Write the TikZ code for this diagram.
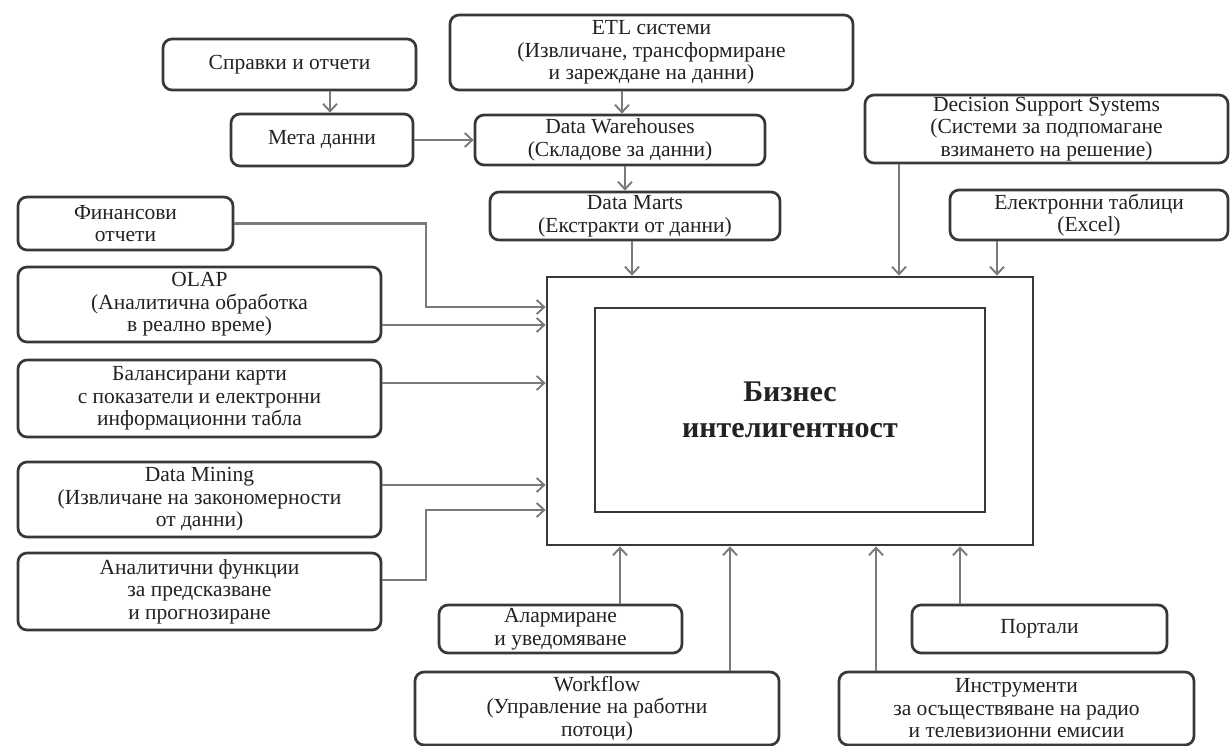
\documentclass[tikz,border=0pt]{standalone}
\usepackage{fontspec}
\setmainfont{Liberation Serif}
\usetikzlibrary{arrows.meta}
\definecolor{framec}{HTML}{383838}
\definecolor{arrowc}{HTML}{7A7A7A}
\definecolor{textc}{HTML}{222222}
\tikzset{
  box/.style={draw=framec, line width=2.7pt, rounded corners=9pt, fill=white,
    inner sep=0pt, align=center, text=textc,
    font=\fontsize{21.5}{22.5}\selectfont},
  core/.style={draw=framec, line width=2.8pt, inner sep=0pt},
  arr/.style={draw=arrowc, line width=2.2pt,
    -{Straight Barb[length=7.5pt,width=14pt,line width=1.9pt]}},
}
\begin{document}
\begin{tikzpicture}[x=1pt,y=-1pt]
\useasboundingbox (0,0) rectangle (1231,746);

% central block
\node[core, minimum width=486, minimum height=268] (outer) at (790,411) {};
\node[core, minimum width=390, minimum height=204, text=textc,
  font=\fontsize{30}{36}\selectfont\bfseries, align=center] (inner) at (790,410)
  {Бизнес\\интелигентност};

% upper chain
\node[box, minimum width=253, minimum height=51] (spr) at (289.5,64.5) {Справки и отчети};
\node[box, minimum width=182, minimum height=52] (meta) at (322,140) {Мета данни};
\node[box, minimum width=403, minimum height=75] (etl) at (651.5,52.5)
  {ETL системи\\(Извличане, трансформиране\\и зареждане на данни)};
\node[box, minimum width=290, minimum height=50] (dw) at (620,140)
  {Data Warehouses\\(Складове за данни)};
\node[box, minimum width=290, minimum height=48] (dm) at (635,216)
  {Data Marts\\(Екстракти от данни)};
\node[box, minimum width=363, minimum height=68] (dss) at (1046.5,129)
  {Decision Support Systems\\(Системи за подпомагане\\взимането на решение)};
\node[box, minimum width=278, minimum height=50] (xls) at (1089,215)
  {Електронни таблици\\(Excel)};

% left column
\node[box, minimum width=215, minimum height=53] (fin) at (125.5,223.5)
  {Финансови\\отчети};
\node[box, minimum width=363, minimum height=75] (olap) at (199.5,304.5)
  {OLAP\\(Аналитична обработка\\в реално време)};
\node[box, minimum width=363, minimum height=77] (bal) at (199.5,398.5)
  {Балансирани карти\\с показатели и електронни\\информационни табла};
\node[box, minimum width=363, minimum height=75] (dmin) at (199.5,499.5)
  {Data Mining\\(Извличане на закономерности\\от данни)};
\node[box, minimum width=363, minimum height=77] (anf) at (199.5,591.5)
  {Аналитични функции\\за предсказване\\и прогнозиране};

% bottom row
\node[box, minimum width=243, minimum height=48] (alarm) at (560.5,629)
  {Алармиране\\и уведомяване};
\node[box, minimum width=364, minimum height=73] (wf) at (597,708.5)
  {Workflow\\(Управление на работни\\потоци)};
\node[box, minimum width=255, minimum height=48] (port) at (1039.5,629) {Портали};
\node[box, minimum width=355, minimum height=73] (instr) at (1016.5,708.5)
  {Инструменти\\за осъществяване на радио\\и телевизионни емисии};

% connectors in the upper part
\draw[arr] ([xshift=40.5pt]spr.south) -- ([xshift=40.5pt]spr.south |- meta.north);
\draw[arr] (meta.east) -- (meta.east -| dw.west);
\draw[arr] ([xshift=-29.5pt]etl.south) -- ([xshift=-29.5pt]etl.south |- dw.north);
\draw[arr] ([xshift=5pt]dw.south) -- ([xshift=5pt]dw.south |- dm.north);
\draw[arr] ([xshift=-3pt]dm.south) -- ([xshift=-3pt]dm.south |- outer.north);
\draw[arr] ([xshift=-147.5pt]dss.south) -- ([xshift=-147.5pt]dss.south |- outer.north);
\draw[arr] ([xshift=-92pt]xls.south) -- ([xshift=-92pt]xls.south |- outer.north);

% connectors from the left
\draw[arr] (fin.east) -- ++(192,0) |- ([yshift=104pt]outer.west);
\draw[arr] ([yshift=-20.5pt]olap.east) -- ([yshift=-20.5pt]olap.east -| outer.west);
\draw[arr] ([yshift=15.5pt]bal.east) -- ([yshift=15.5pt]bal.east -| outer.west);
\draw[arr] ([yshift=14.5pt]dmin.east) -- ([yshift=14.5pt]dmin.east -| outer.west);
\draw[arr] ([yshift=11.5pt]anf.east) -- ++(44,0) |- ([yshift=-99pt]outer.west);

% connectors from below
\draw[arr] ([xshift=59.5pt]alarm.north) -- ([xshift=59.5pt]alarm.north |- outer.south);
\draw[arr] ([xshift=133pt]wf.north) -- ([xshift=133pt]wf.north |- outer.south);
\draw[arr] ([xshift=-140.5pt]instr.north) -- ([xshift=-140.5pt]instr.north |- outer.south);
\draw[arr] ([xshift=-79.5pt]port.north) -- ([xshift=-79.5pt]port.north |- outer.south);
\end{tikzpicture}
\end{document}
